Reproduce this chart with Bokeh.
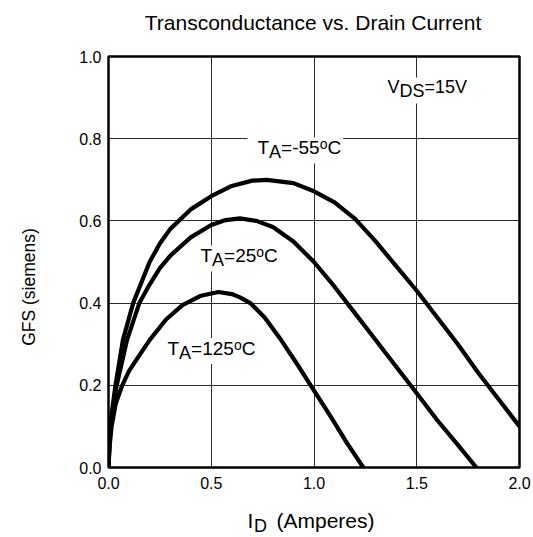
import math
from bokeh.plotting import figure
from bokeh.layouts import column, row
from bokeh.models import Range1d, FixedTicker, Label, PrintfTickFormatter
from bokeh.embed import file_html
from bokeh.resources import INLINE

# ---------------- data ----------------
id_m55 = [0, 0.005, 0.015, 0.034, 0.07, 0.12, 0.2, 0.25, 0.3, 0.4, 0.5, 0.6, 0.7, 0.77,
          0.9, 1.0, 1.1, 1.2, 1.3, 1.4, 1.5, 1.6, 1.7, 1.8, 1.9, 2.0]
gfs_m55 = [0, 0.07, 0.13, 0.20, 0.31, 0.40, 0.50, 0.545, 0.58, 0.628, 0.66, 0.685, 0.698, 0.70,
           0.692, 0.672, 0.645, 0.605, 0.55, 0.49, 0.43, 0.365, 0.30, 0.23, 0.165, 0.10]

id_25 = [0, 0.005, 0.015, 0.04, 0.09, 0.15, 0.2, 0.25, 0.3, 0.4, 0.5, 0.57, 0.64, 0.72,
         0.8, 0.9, 1.0, 1.1, 1.2, 1.3, 1.4, 1.47, 1.6, 1.7, 1.79]
gfs_25 = [0, 0.06, 0.12, 0.20, 0.31, 0.40, 0.445, 0.485, 0.515, 0.56, 0.59, 0.602, 0.606, 0.60,
          0.585, 0.55, 0.50, 0.44, 0.375, 0.31, 0.245, 0.20, 0.115, 0.055, 0.0]

id_125 = [0, 0.005, 0.015, 0.035, 0.067, 0.1, 0.146, 0.2, 0.28, 0.36, 0.45, 0.535, 0.6,
          0.64, 0.69, 0.76, 0.84, 0.92, 0.99, 1.08, 1.16, 1.24]
gfs_125 = [0, 0.05, 0.10, 0.155, 0.20, 0.235, 0.27, 0.31, 0.36, 0.395, 0.418, 0.427, 0.422,
           0.414, 0.40, 0.365, 0.31, 0.25, 0.195, 0.125, 0.06, 0.0]

x_ticks = [0, 0.5, 1.0, 1.5, 2.0]
y_ticks = [0, 0.2, 0.4, 0.6, 0.8, 1.0]

title_text = "Transconductance vs. Drain Current"
ylabel_text = "GFS (siemens)"
xlabel_parts = ["I", "D", "(Amperes)"]
vds_parts = ["V", "DS", "=15V"]
temp_values = ["-55", "25", "125"]

FONT = "Liberation Sans"

# ---------------- layout (page pixels) ----------------
W, H = 532, 536
TOP_H = 40
MAIN_BOTTOM = 500
LEFT_W = 60
FL, FT, FW, FH = 108, 56, 411, 411   # plot frame in page pixels
BASE_FIX = 0.3                        # observed baseline drop, as a fraction of font size


def dx(px):
    return (px - FL) / FW * 2.0


def dy(py):
    return (FT + FH - py) / FH


ARIAL = {"T": .611, "A": .667, "V": .667, "D": .722, "S": .667, "=": .584, "-": .333,
         "o": .556, "C": .722, " ": .278, "I": .278, "(": .333, ")": .333, "m": .833,
         "p": .556, "e": .556, "r": .333, "s": .5}


def tw(s, size):
    return sum(ARIAL.get(c, .556) for c in s) * size


main_w = W - LEFT_W
main_h = MAIN_BOTTOM - TOP_H
p = figure(width=main_w, height=main_h, x_range=Range1d(0, 2), y_range=Range1d(0, 1),
           output_backend="svg", toolbar_location=None, title_location=None,
           min_border_left=FL - LEFT_W, min_border_right=main_w - (FL - LEFT_W) - FW,
           min_border_top=FT - TOP_H, min_border_bottom=main_h - (FT - TOP_H) - FH)
p.background_fill_color = "white"
p.border_fill_color = "white"
p.outline_line_color = "black"
p.outline_line_width = 2.5

p.xaxis.ticker = FixedTicker(ticks=x_ticks)
p.yaxis.ticker = FixedTicker(ticks=y_ticks)
p.xaxis.formatter = PrintfTickFormatter(format="%.1f")
p.yaxis.formatter = PrintfTickFormatter(format="%.1f")
for ax in (p.xaxis, p.yaxis):
    ax.axis_line_color = None
    ax.major_tick_line_color = None
    ax.minor_tick_line_color = None
    ax.major_tick_out = 0
    ax.major_tick_in = 0
    ax.major_label_text_font = FONT
    ax.major_label_text_font_size = "16px"
    ax.major_label_text_color = "black"
p.xaxis.major_label_standoff = 9
p.yaxis.major_label_standoff = 7

p.xgrid.ticker = FixedTicker(ticks=[0.5, 1.0, 1.5])
p.ygrid.ticker = FixedTicker(ticks=[0.2, 0.4, 0.6, 0.8])
for g in (p.xgrid, p.ygrid):
    g.grid_line_color = "#2a2a2a"
    g.grid_line_width = 1


def add_piece(fig, text, x, y, size, align="left"):
    fig.add_layout(Label(x=x, y=y, text=text, text_font=FONT,
                         text_font_size=f"{size}px", text_align=align,
                         text_baseline="alphabetic", text_color="black"))


def temp_label(val, x0, base):
    pieces = [("T", 19, 0), ("A", 18, 4), ("=" + val, 19, 0), ("o", 14, -5), ("C", 19, 0)]
    x = x0
    out = []
    for t, s, off in pieces:
        out.append((t, x, base + off, s))
        x += tw(t, s)
    return out, x


boxes_l, boxes_r, boxes_t, boxes_b = [], [], [], []
label_specs = []
for val, x0, base in zip(temp_values, [257, 200, 167], [153, 261, 353.5]):
    pcs, xend = temp_label(val, x0, base)
    label_specs.extend(pcs)
    boxes_l.append(dx(x0 - 10)); boxes_r.append(dx(xend + 2))
    boxes_t.append(dy(base - 16)); boxes_b.append(dy(base + 10))

x = 387
for t, s, off in zip(vds_parts, [18, 18, 18], [0, 4, 0]):
    label_specs.append((t, x, 92 + off, s))
    x += tw(t, s)
boxes_l.append(dx(387 - 6)); boxes_r.append(dx(x + 3))
boxes_t.append(dy(92 - 15)); boxes_b.append(dy(92 + 11))

# white boxes behind annotation texts (interrupt grid lines)
p.quad(left=boxes_l, right=boxes_r, top=boxes_t, bottom=boxes_b,
       fill_color="white", line_color=None)

for xs, ys in [(id_m55, gfs_m55), (id_25, gfs_25), (id_125, gfs_125)]:
    p.line(xs, ys, line_color="black", line_width=4.2, line_join="round", line_cap="round")

for t, px, py, s in label_specs:
    add_piece(p, t, dx(px), dy(py - BASE_FIX * s), s)


# ---------------- helper figures for texts outside the frame ----------------
def blank(w, h):
    f = figure(width=w, height=h, x_range=Range1d(0, w), y_range=Range1d(0, h),
               output_backend="svg", toolbar_location=None, title_location=None,
               min_border=0, x_axis_location=None, y_axis_location=None)
    f.outline_line_color = None
    f.background_fill_color = "white"
    f.border_fill_color = "white"
    for g in f.grid:
        g.visible = False
    return f


top_fig = blank(W, TOP_H)
add_piece(top_fig, title_text, 312.5, TOP_H - (28 - BASE_FIX * 21), 21, align="center")

left_fig = blank(LEFT_W, main_h)
left_fig.add_layout(Label(x=28, y=main_h - (298 - TOP_H), text=ylabel_text,
                          text_font=FONT, text_font_size="17.5px", text_align="center",
                          text_baseline="middle", angle=math.pi / 2, text_color="black"))

bot_h = H - MAIN_BOTTOM
bot_fig = blank(W, bot_h)
for t, px, base, s in zip(xlabel_parts, [247, 253.5, 276], [526.5, 530.5, 526.5], [21, 18, 21]):
    add_piece(bot_fig, t, px, bot_h - (base - BASE_FIX * s - MAIN_BOTTOM), s)

layout = column(top_fig, row(left_fig, p), bot_fig)
open("out.html", "w").write(file_html(layout, INLINE))
